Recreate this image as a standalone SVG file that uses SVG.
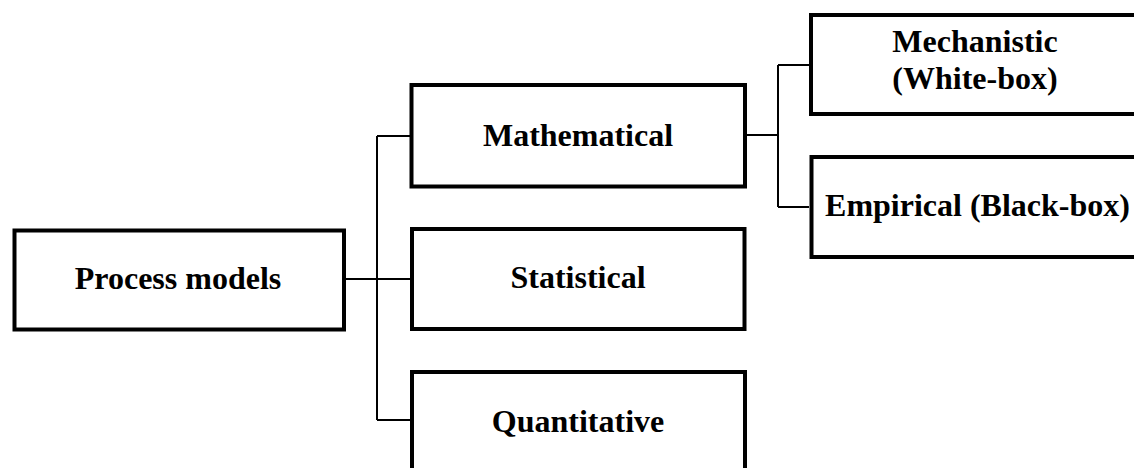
<svg xmlns="http://www.w3.org/2000/svg" width="1134" height="468" viewBox="0 0 1134 468">
  <style>
    .box { fill: #ffffff; stroke: #000000; stroke-width: 4; }
    .lbl { font-family: "Liberation Serif", "Times New Roman", serif; font-weight: bold; font-size: 32px; fill: #000000; text-anchor: middle; }
    .conn { fill: none; stroke: #000000; stroke-width: 2; }
  </style>
  <rect width="1134" height="468" fill="#ffffff"/>
  <g id="connectors">
    <path class="conn" d="M346,279 H377 M377,136 V420 M377,136 H410 M377,279 H410 M377,420 H410"/>
    <path class="conn" d="M747,135 H778 M778,65 V207 M778,65 H809 M778,207 H809"/>
  </g>
  <g id="process-models">
    <rect class="box" x="14.5" y="230.5" width="329.5" height="99"/>
    <text class="lbl" x="178" y="289">Process models</text>
  </g>
  <g id="mathematical">
    <rect class="box" x="411.5" y="85" width="333.5" height="101.5"/>
    <text class="lbl" x="578" y="146">Mathematical</text>
  </g>
  <g id="statistical">
    <rect class="box" x="412" y="229" width="332.5" height="100"/>
    <text class="lbl" x="578" y="288">Statistical</text>
  </g>
  <g id="quantitative">
    <rect class="box" x="412" y="372" width="333" height="110"/>
    <text class="lbl" x="578" y="432">Quantitative</text>
  </g>
  <g id="mechanistic">
    <rect class="box" x="811" y="15" width="340" height="99"/>
    <text class="lbl" x="975" y="52">Mechanistic</text>
    <text class="lbl" x="975" y="89">(White-box)</text>
  </g>
  <g id="empirical">
    <rect class="box" x="811.5" y="157" width="340" height="100"/>
    <text class="lbl" x="977.5" y="216">Empirical (Black-box)</text>
  </g>
</svg>
